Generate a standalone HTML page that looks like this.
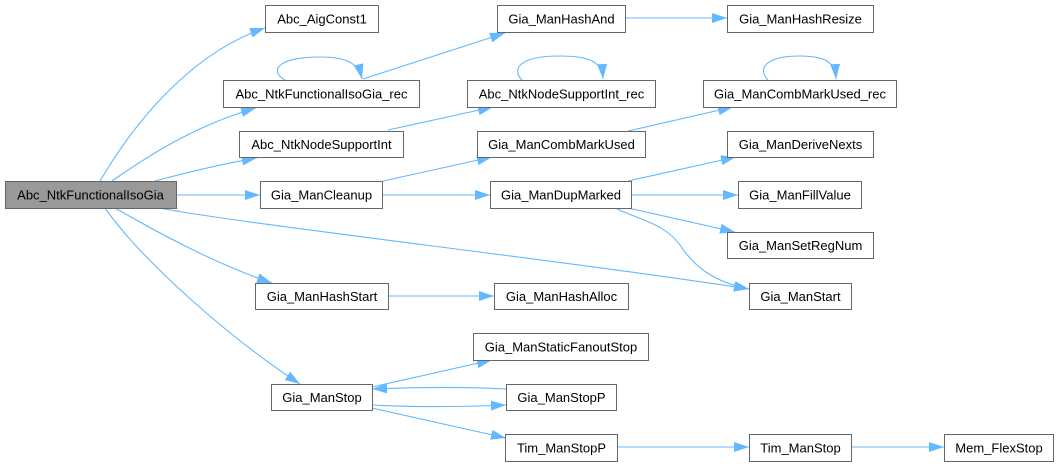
<!DOCTYPE html>
<html>
<head>
<meta charset="utf-8">
<style>
html,body{margin:0;padding:0;background:#fff;}
svg{display:block;}
text{font-family:"Liberation Sans",Arial,sans-serif;font-size:13px;fill:#000;}
.n{fill:#fff;stroke:#666;stroke-width:1;}
.r{fill:#999;stroke:#666;stroke-width:1;}
.e{fill:none;stroke:#63b8ff;stroke-width:1.1;}
</style>
</head>
<body>
<svg width="1059" height="467" viewBox="0 0 1059 467" xmlns="http://www.w3.org/2000/svg">
<defs>
<marker id="a" markerUnits="userSpaceOnUse" markerWidth="16" markerHeight="11" refX="15" refY="5" orient="auto">
<path d="M0,0 L15,5 L0,10 z" fill="#63b8ff"/>
</marker>
</defs>

<!-- edges -->
<path class="e" marker-end="url(#a)" d="M100,181 C128,133 185,55 265,28"/>
<path class="e" marker-end="url(#a)" d="M112,181 C145,158 195,125 256,108"/>
<path class="e" marker-end="url(#a)" d="M155,181 C185,173 220,164 257,158"/>
<path class="e" marker-end="url(#a)" d="M176,195 L260,195"/>
<path class="e" marker-end="url(#a)" d="M159,208 C250,225 560,260 749,289"/>
<path class="e" marker-end="url(#a)" d="M115,208 C150,228 210,262 272,283"/>
<path class="e" marker-end="url(#a)" d="M105,208 C140,258 225,335 300,384"/>

<path class="e" marker-end="url(#a)" d="M285,80 C270,72 275,57 320,57 C345,57 358,62 362,79"/>
<path class="e" marker-end="url(#a)" d="M363,79 L505,33"/>
<path class="e" marker-end="url(#a)" d="M388,130 L493,107"/>
<path class="e" marker-end="url(#a)" d="M383,181 L492,157"/>
<path class="e" marker-end="url(#a)" d="M382,195 L490,195"/>

<path class="e" marker-end="url(#a)" d="M625,18 L727,18"/>
<path class="e" marker-end="url(#a)" d="M522,80 C512,70 517,56 560,56 C590,56 602,62 603,79"/>
<path class="e" marker-end="url(#a)" d="M628,131 L733,107"/>
<path class="e" marker-end="url(#a)" d="M768,80 C758,70 763,56 800,56 C825,56 835,62 836,79"/>
<path class="e" marker-end="url(#a)" d="M628,181 L736,157"/>
<path class="e" marker-end="url(#a)" d="M631,195 L738,195"/>
<path class="e" marker-end="url(#a)" d="M628,208 L735,232"/>
<path class="e" marker-end="url(#a)" d="M615,208 C640,220 665,224 680,245 C695,268 715,282 749,289"/>

<path class="e" marker-end="url(#a)" d="M388,296 L494,296"/>
<path class="e" marker-end="url(#a)" d="M372,387 L492,360"/>
<path class="e" marker-end="url(#a)" d="M506,389 C470,387 420,387 372,389"/>
<path class="e" marker-end="url(#a)" d="M372,405 C410,407 460,407 506,405"/>
<path class="e" marker-end="url(#a)" d="M372,408 L506,438"/>
<path class="e" marker-end="url(#a)" d="M617,447 L749,447"/>
<path class="e" marker-end="url(#a)" d="M851,447 L944,447"/>

<!-- nodes -->
<rect class="r" x="5.5" y="181.5" width="171" height="27"/>
<text x="90.5" y="199.5" text-anchor="middle">Abc_NtkFunctionalIsoGia</text>

<rect class="n" x="265.5" y="5.5" width="113" height="27"/>
<text x="322" y="23.5" text-anchor="middle">Abc_AigConst1</text>

<rect class="n" x="223.5" y="80.5" width="196" height="27"/>
<text x="321.5" y="98.5" text-anchor="middle">Abc_NtkFunctionalIsoGia_rec</text>

<rect class="n" x="239.5" y="131.5" width="164" height="26"/>
<text x="321.5" y="149" text-anchor="middle">Abc_NtkNodeSupportInt</text>

<rect class="n" x="260.5" y="181.5" width="122" height="27"/>
<text x="321.5" y="199.5" text-anchor="middle">Gia_ManCleanup</text>

<rect class="n" x="255.5" y="283.5" width="133" height="26"/>
<text x="322" y="301" text-anchor="middle">Gia_ManHashStart</text>

<rect class="n" x="271.5" y="384.5" width="101" height="26"/>
<text x="322" y="402" text-anchor="middle">Gia_ManStop</text>

<rect class="n" x="497.5" y="5.5" width="128" height="27"/>
<text x="561.5" y="23.5" text-anchor="middle">Gia_ManHashAnd</text>

<rect class="n" x="727.5" y="5.5" width="146" height="27"/>
<text x="800.5" y="23.5" text-anchor="middle">Gia_ManHashResize</text>

<rect class="n" x="467.5" y="80.5" width="188" height="27"/>
<text x="561.5" y="98.5" text-anchor="middle">Abc_NtkNodeSupportInt_rec</text>

<rect class="n" x="703.5" y="80.5" width="193" height="27"/>
<text x="800" y="98.5" text-anchor="middle">Gia_ManCombMarkUsed_rec</text>

<rect class="n" x="477.5" y="131.5" width="168" height="26"/>
<text x="561.5" y="149" text-anchor="middle">Gia_ManCombMarkUsed</text>

<rect class="n" x="727.5" y="131.5" width="146" height="26"/>
<text x="800.5" y="149" text-anchor="middle">Gia_ManDeriveNexts</text>

<rect class="n" x="490.5" y="181.5" width="141" height="27"/>
<text x="561" y="199.5" text-anchor="middle">Gia_ManDupMarked</text>

<rect class="n" x="738.5" y="181.5" width="123" height="27"/>
<text x="800" y="199.5" text-anchor="middle">Gia_ManFillValue</text>

<rect class="n" x="727.5" y="232.5" width="146" height="26"/>
<text x="800.5" y="250" text-anchor="middle">Gia_ManSetRegNum</text>

<rect class="n" x="749.5" y="283.5" width="102" height="26"/>
<text x="800.5" y="301" text-anchor="middle">Gia_ManStart</text>

<rect class="n" x="494.5" y="283.5" width="134" height="26"/>
<text x="561.5" y="301" text-anchor="middle">Gia_ManHashAlloc</text>

<rect class="n" x="473.5" y="333.5" width="175" height="27"/>
<text x="561" y="351.5" text-anchor="middle">Gia_ManStaticFanoutStop</text>

<rect class="n" x="506.5" y="384.5" width="110" height="26"/>
<text x="561.5" y="402" text-anchor="middle">Gia_ManStopP</text>

<rect class="n" x="505.5" y="434.5" width="112" height="27"/>
<text x="561.5" y="452.5" text-anchor="middle">Tim_ManStopP</text>

<rect class="n" x="749.5" y="434.5" width="102" height="27"/>
<text x="800.5" y="452.5" text-anchor="middle">Tim_ManStop</text>

<rect class="n" x="944.5" y="434.5" width="109" height="27"/>
<text x="999" y="452.5" text-anchor="middle">Mem_FlexStop</text>
</svg>
</body>
</html>
